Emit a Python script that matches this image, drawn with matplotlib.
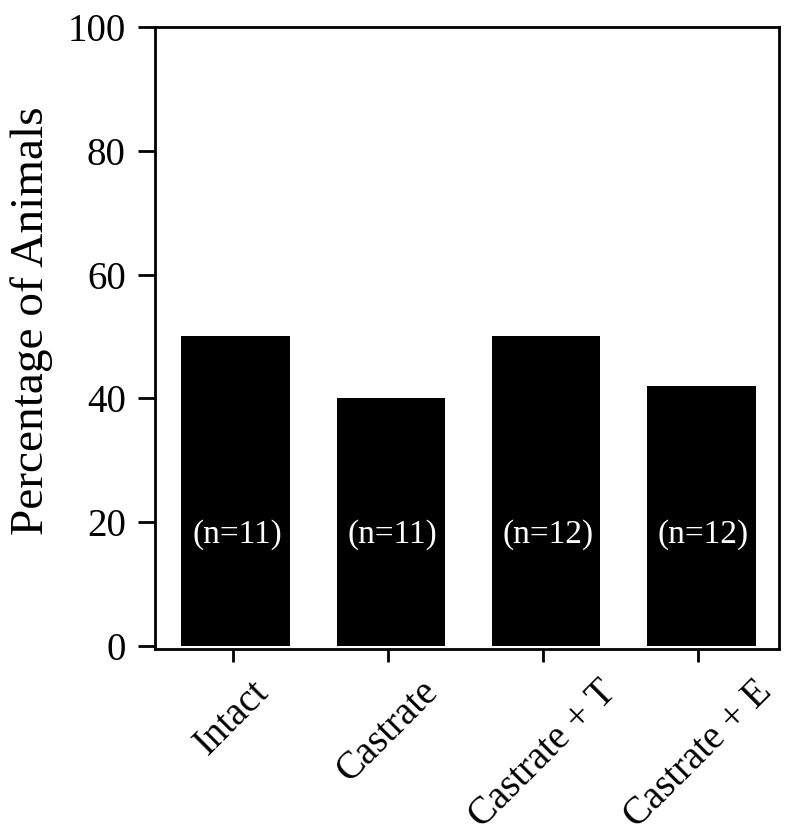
import numpy as np
import matplotlib
matplotlib.use("Agg")
import matplotlib.pyplot as plt

plt.rcParams['font.family'] = ['Liberation Serif', 'DejaVu Serif']

groups = ["Intact", "Castrate", "Castrate + T", "Castrate + E"]
percent = [50, 40, 50, 42]
n_labels = ["(n=11)", "(n=11)", "(n=12)", "(n=12)"]
yticks = [0, 20, 40, 60, 80, 100]

fig = plt.figure(figsize=(7.92, 8.39), dpi=100)
ax = fig.add_axes([0.1957, 0.2265, 0.7879, 0.7414])

x = np.arange(len(groups))
ax.bar(x + 0.02, percent, width=0.7, color="black")
for xi, lab in zip(x, n_labels):
    ax.text(xi + 0.03, 18, lab, color="white", ha="center", va="center", fontsize=24)

ax.set_xlim(-0.5, 3.52)
ax.set_ylim(-0.5, 100)
ax.set_yticks(yticks)
ax.set_xticks(x)
ax.set_xticklabels(groups, rotation=45, ha="center", va="top")

for s in ax.spines.values():
    s.set_linewidth(2)
ax.tick_params(axis="both", direction="out", width=2)
ax.tick_params(axis="y", length=12, pad=9, labelsize=28)
ax.tick_params(axis="x", length=9.5, pad=8, labelsize=28)
ax.set_ylabel("Percentage of Animals", fontsize=34)
ax.yaxis.set_label_coords(-0.163, 0.527)

fig.savefig("out.png", dpi=100)
